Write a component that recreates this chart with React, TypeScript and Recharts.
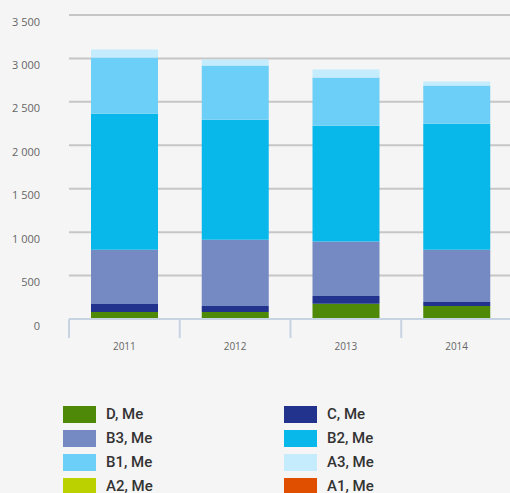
import React from "react";
import { Bar, BarChart, CartesianGrid, XAxis, YAxis } from "recharts";

const years = ["2011", "2012", "2013", "2014"];
const dVals = [80, 80, 175, 150];
const cVals = [93, 70, 90, 46];
const b3Vals = [623, 761, 627, 600];
const b2Vals = [1568, 1384, 1334, 1453];
const b1Vals = [646, 623, 554, 438];
const a3Vals = [92, 69, 92, 46];
const a2Vals = [0, 0, 0, 0];
const a1Vals = [0, 0, 0, 0];
const yTicks = [0, 500, 1000, 1500, 2000, 2500, 3000, 3500];

const series = [
  { key: "d", name: "D, Me", color: "#4e8a07", values: dVals },
  { key: "c", name: "C, Me", color: "#21338c", values: cVals },
  { key: "b3", name: "B3, Me", color: "#7589c3", values: b3Vals },
  { key: "b2", name: "B2, Me", color: "#09b8ea", values: b2Vals },
  { key: "b1", name: "B1, Me", color: "#6ccff7", values: b1Vals },
  { key: "a3", name: "A3, Me", color: "#c4ecfd", values: a3Vals },
  { key: "a2", name: "A2, Me", color: "#bcd200", values: a2Vals },
  { key: "a1", name: "A1, Me", color: "#e04e00", values: a1Vals },
];

const rows = years.map((year, i) => {
  const row: Record<string, string | number> = { year };
  series.forEach((s) => (row[s.key] = s.values[i]));
  return row;
});

const fmt = (v: number) => String(v).replace(/\B(?=(\d{3})+(?!\d))/g, " ");

const font = "'Open Sans', sans-serif";

function YTick({ x, y, payload }: any) {
  return (
    <text
      x={x}
      y={y + 6}
      textAnchor="end"
      dominantBaseline="central"
      fill="#666"
      fontSize={11}
      fontFamily={font}
    >
      {fmt(payload.value)}
    </text>
  );
}

function XTick({ x, y, payload, index, visibleTicksCount }: any) {
  const half = payload.offset ?? 0;
  const last = index === visibleTicksCount - 1;
  return (
    <g>
      <line x1={x - half} x2={x - half} y1={y} y2={y + 19} stroke="#c5d3e2" strokeWidth={2} />
      {last && (
        <line x1={x + half} x2={x + half} y1={y} y2={y + 19} stroke="#c5d3e2" strokeWidth={2} />
      )}
      <text
        x={x}
        y={y + 27}
        textAnchor="middle"
        dominantBaseline="central"
        fill="#666"
        fontSize={10}
        fontFamily={font}
      >
        {payload.value}
      </text>
    </g>
  );
}

export default function App() {
  return (
    <div
      style={{
        width: 510,
        height: 493,
        position: "relative",
        overflow: "hidden",
        background: "#f5f5f5",
      }}
    >
      <style>{"body{margin:0;background:#f5f5f5}"}</style>
      <BarChart
        width={512}
        height={360}
        data={rows}
        margin={{ top: 15, right: 0, left: 0, bottom: 0 }}
        barSize={67}
      >
        <CartesianGrid vertical={false} stroke="#c6c6c6" strokeWidth={2} />
        <YAxis
          domain={[0, 3500]}
          ticks={yTicks}
          width={69}
          axisLine={false}
          tickLine={false}
          tickSize={0}
          tickMargin={29}
          tick={<YTick />}
          interval={0}
        />
        <XAxis
          dataKey="year"
          height={41}
          axisLine={{ stroke: "#c5d3e2", strokeWidth: 2 }}
          tickLine={false}
          tickSize={0}
          tickMargin={0}
          tick={<XTick />}
          interval={0}
        />
        {series.map((s) => (
          <Bar
            key={s.key}
            dataKey={s.key}
            name={s.name}
            stackId="a"
            fill={s.color}
            isAnimationActive={false}
          />
        ))}
      </BarChart>
      <div
        style={{
          position: "absolute",
          left: 63,
          top: 406,
          display: "grid",
          gridTemplateColumns: "221px 221px",
          gridAutoRows: "24px",
          fontFamily: "Roboto, sans-serif",
          fontWeight: 500,
          fontSize: 15,
          color: "#333",
        }}
      >
        {series.map((s) => (
          <div key={s.key} style={{ display: "flex", alignItems: "flex-start", height: 24 }}>
            <span
              style={{
                width: 33,
                height: 17,
                background: s.color,
                marginRight: 10,
                flex: "none",
              }}
            />
            <span style={{ lineHeight: "17px" }}>{s.name}</span>
          </div>
        ))}
      </div>
    </div>
  );
}
